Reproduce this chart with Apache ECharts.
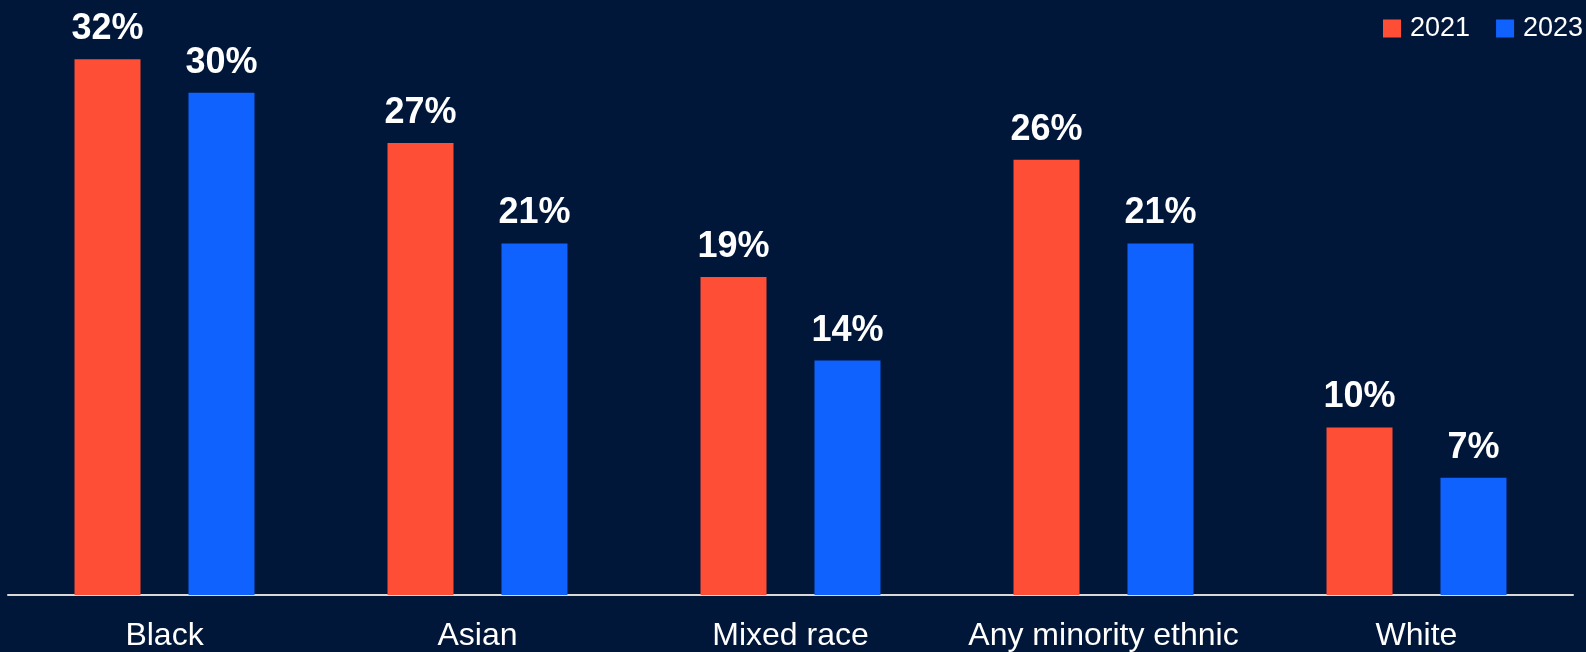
<!DOCTYPE html>
<html>
<head>
<meta charset="utf-8">
<script src="https://cdn.jsdelivr.net/npm/echarts@6/dist/echarts.min.js"></script>
<style>
  html, body { margin: 0; padding: 0; background: #01173A; }
  #chart { width: 1586px; height: 652px; }
</style>
</head>
<body>
<div id="chart"></div>
<script>
// Share by ethnic group, two survey years
const categories = ['Black', 'Asian', 'Mixed race', 'Any minority ethnic', 'White'];
const seriesNames = ['2021', '2023'];
const values2021 = [32, 27, 19, 26, 10];
const values2023 = [30, 21, 14, 21, 7];

const RED = '#FF4E36';
const BLUE = '#0F62FE';
const FONT = '"Liberation Sans", Arial, sans-serif';

const valueLabel = {
  show: true,
  position: 'top',
  distance: 12,
  color: '#FFFFFF',
  fontFamily: FONT,
  fontWeight: 'bold',
  fontSize: 36,
  formatter: p => p.value + '%'
};

const chart = echarts.init(document.getElementById('chart'));
chart.setOption({
  backgroundColor: '#01173A',
  animation: false,
  legend: {
    data: seriesNames,
    orient: 'horizontal',
    left: 1383,
    top: 15,
    width: 400,
    padding: 0,
    itemWidth: 18,
    itemHeight: 18,
    itemGap: 26,
    icon: 'rect',
    textStyle: { color: '#FFFFFF', fontFamily: FONT, fontSize: 27, padding: [0, 0, 0, 4] }
  },
  grid: { left: 8, right: 13, top: 9, bottom: 57 },
  xAxis: {
    type: 'category',
    data: categories,
    axisLine: { lineStyle: { color: '#D9D9D9', width: 2 } },
    axisTick: { show: false },
    axisLabel: { interval: 0, color: '#FFFFFF', fontFamily: FONT, fontSize: 32, margin: 25 }
  },
  yAxis: {
    type: 'value',
    min: 0,
    max: 35,
    show: false,
    splitLine: { show: false }
  },
  series: [
    {
      name: seriesNames[0],
      type: 'bar',
      data: values2021,
      barWidth: 66,
      barGap: '72.7%',
      itemStyle: { color: RED },
      label: valueLabel
    },
    {
      name: seriesNames[1],
      type: 'bar',
      data: values2023,
      barWidth: 66,
      itemStyle: { color: BLUE },
      label: valueLabel
    }
  ]
});
</script>
</body>
</html>
